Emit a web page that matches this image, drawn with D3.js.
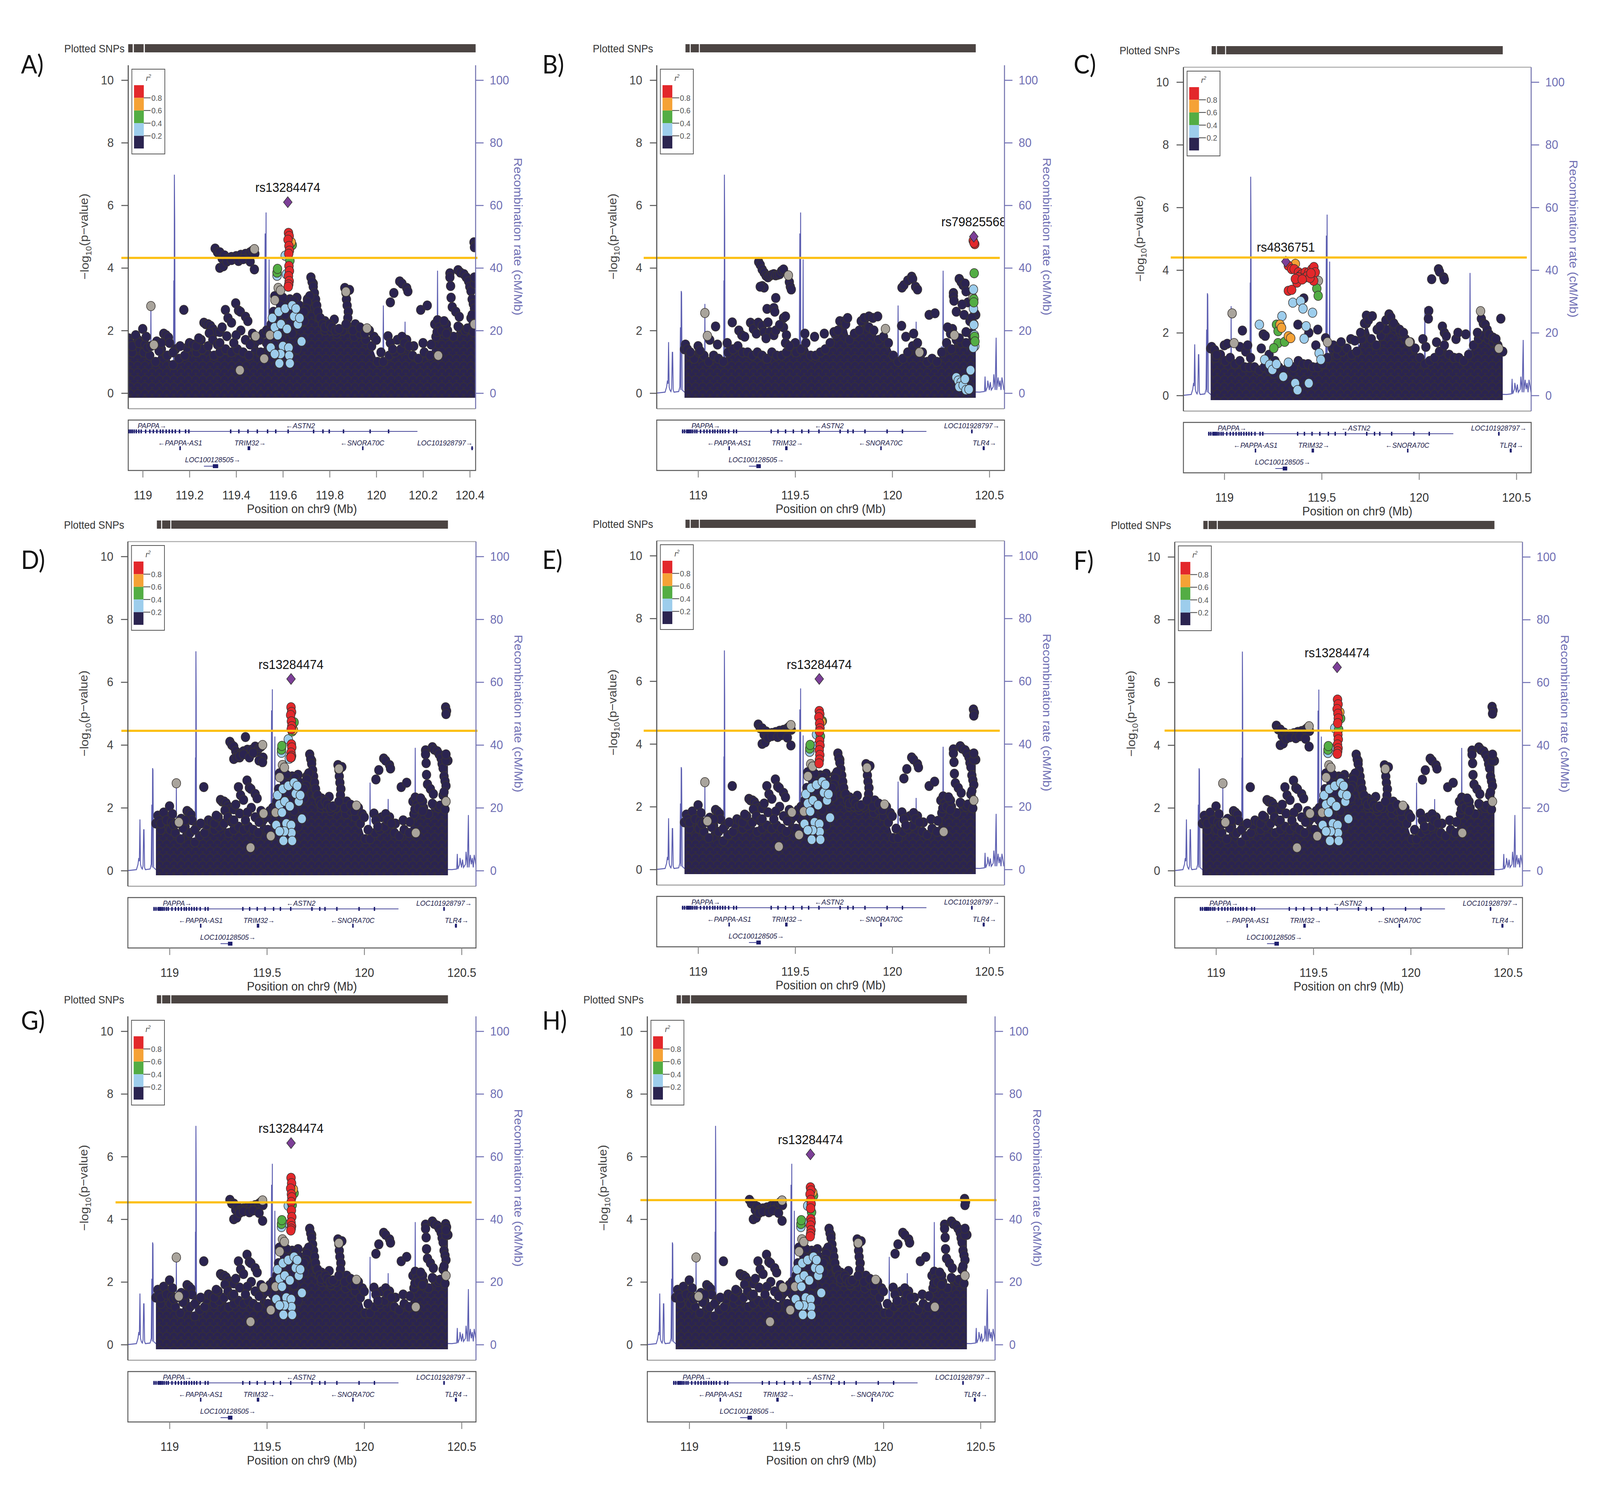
<!DOCTYPE html>
<html><head><meta charset="utf-8">
<script src="https://cdn.jsdelivr.net/npm/d3@7"></script>
<style>
html,body{margin:0;padding:0;background:#fff;overflow:hidden}
svg{display:block;width:100vw;height:100vh}
text{font-family:"Liberation Sans",Arial,Helvetica,sans-serif}
</style>
</head><body>
<svg id="c" viewBox="0 0 4417 3808" preserveAspectRatio="none"></svg>
<script>
// ---------------- DATA ----------------
const panelIds = ["A","B","C","D","E","F","G","H"];
const leadName = ["rs13284474","rs79825568","rs4836751","rs13284474","rs13284474","rs13284474","rs13284474","rs13284474"];
const leadPos  = [119.621,120.42,119.316,119.624,119.624,119.622,119.624,119.624];
const leadLogP = [6.1,5.0,4.27,6.1,6.07,6.48,6.43,6.07];
const thresholdLogP = [4.32,4.32,4.40,4.45,4.42,4.46,4.54,4.61];

const yTicks = [0,2,4,6,8,10];
const recTicks = [0,20,40,60,80,100];
const xTicksNarrow = [119,119.2,119.4,119.6,119.8,120,120.2,120.4];
const xLabelsNarrow = ["119","119.2","119.4","119.6","119.8","120","120.2","120.4"];
const xTicksWide = [119,119.5,120,120.5];
const xLabelsWide = ["119","119.5","120","120.5"];
const ldLabels = ["0.8","0.6","0.4","0.2"];

// recombination rate (cM/Mb), shared by all panels
const recombPos = [118.786,118.83,118.838,118.842,118.845,118.848,118.851,118.855,118.86,118.864,118.867,118.869,118.872,118.876,118.9,118.906,118.909,118.911,118.913,118.915,118.918,118.93,119.0,119.033,119.035,119.037,119.06,119.063,119.066,119.1,119.131,119.133,119.134,119.1355,119.137,119.139,119.2,119.3,119.4,119.45,119.52,119.524,119.526,119.528,119.529,119.531,119.538,119.541,119.543,119.55,119.62,119.686,119.689,119.692,119.7,119.766,119.77,119.774,119.85,119.9,120.027,120.03,120.033,120.12,120.123,120.125,120.127,120.2,120.25,120.253,120.256,120.259,120.262,120.265,120.35,120.45,120.475,120.478,120.481,120.49,120.492,120.5,120.505,120.51,120.52,120.523,120.53,120.535,120.538,120.545,120.55,120.555,120.56,120.565,120.575];
const recombRate = [0,0.3,2,4,3,16.3,2,1,0.5,1.5,13,13,1,0.3,0.5,2,21,1,32.6,32,1,0.3,0.5,0.5,28.5,0.5,0.5,7.5,0.5,0.3,0.5,36,1,69.8,55,0.5,0.4,0.3,0.5,0.3,0.5,51,1,57.7,2,0.5,0.5,42.7,1,0.5,0.3,0.5,19,0.5,0.3,0.3,13,0.3,0.5,0.3,0.5,28,0.5,0.5,22.8,1,0.5,0.5,0.5,15,1,0.5,39.1,0.5,0.5,0.3,0.5,5.3,0.5,2,4,1,3.5,1,2,6,1,17.7,1,5,2,4,1,5,1];

// "Plotted SNPs" rug: covered stretches
const plottedStart = [118.935,118.962,119.009];
const plottedEnd   = [118.957,119.004,120.43];

// upper edge of the dense mass of weak SNPs
const envPos = [118.93,118.955,118.98,119.005,119.03,119.055,119.08,119.105,119.13,119.155,
119.18,119.205,119.23,119.255,119.28,119.305,119.33,119.355,119.38,119.405,
119.43,119.455,119.48,119.505,119.53,119.555,119.58,119.605,119.63,119.655,
119.68,119.705,119.73,119.755,119.78,119.805,119.83,119.855,119.88,119.905,
119.93,119.955,119.98,120.005,120.03,120.055,120.08,120.105,120.13,120.155,
120.18,120.205,120.23,120.255,120.28,120.305,120.33,120.355,120.38,120.405,120.43];
const envAstn = [1.5,1.3,1.7,1.3,1.2,1.0,1.4,1.2,0.9,1.1,
1.2,1.5,1.3,1.4,1.5,1.2,1.3,1.4,1.3,1.4,
1.3,1.2,1.7,1.3,1.6,2.0,2.6,2.8,3.0,2.5,
2.3,3.0,3.5,2.4,2.0,2.0,1.9,2.0,2.6,1.8,
1.9,1.7,1.5,1.0,1.0,1.2,1.3,1.4,1.7,1.2,
1.1,1.3,1.2,1.8,2.2,2.0,1.8,2.1,2.0,2.4,3.5];
const envB = [1.4,1.2,1.1,1.3,1.2,1.0,1.2,1.1,1.0,1.3,
1.4,1.5,1.3,1.3,1.2,1.3,1.2,1.1,1.3,1.2,
1.2,1.3,1.5,1.3,1.4,1.6,1.2,1.2,1.3,1.4,
1.6,1.9,2.3,2.3,1.7,1.9,2.0,2.3,2.1,2.0,
1.7,1.8,1.6,1.2,1.0,1.1,1.3,1.5,1.6,1.3,
1.0,1.1,1.0,1.3,1.6,1.4,1.7,1.6,1.6,1.9,2.5];
const envC = [1.5,1.2,1.3,1.1,1.2,1.0,1.1,0.9,0.9,0.9,
0.8,0.9,0.8,0.7,0.9,0.8,1.0,0.9,1.1,1.0,
1.0,0.9,0.9,1.0,1.2,1.5,1.3,1.4,1.5,1.3,
1.4,1.8,2.3,1.8,1.6,1.9,2.1,2.4,2.2,2.0,
1.8,1.7,1.5,1.2,1.0,1.1,1.2,1.4,1.6,1.3,
1.2,1.2,1.1,1.3,1.6,1.8,1.9,1.8,1.7,1.6,1.4];

// SNPs [position Mb, -log10 p, LD class] ; class: -1 NA(grey),0 <0.2,1 0.2-0.4,2 0.4-0.6,3 0.6-0.8,4 >0.8
const astnSnps = [
[118.94,1.75,0],[118.945,1.6,0],[118.955,1.5,0],[118.97,1.85,0],[118.985,1.6,0],[119.0,2.05,0],[119.01,1.55,0],[119.02,1.45,0],[119.06,1.65,0],[119.07,1.35,0],[119.09,1.9,0],[119.1,1.85,0],[119.11,1.78,0],[119.115,1.6,0],[119.14,1.4,0],[119.176,2.66,0],[119.19,1.45,0],[119.2,1.6,0],[119.215,1.55,0],[119.23,1.5,0],[119.25,1.7,0],[119.262,2.25,0],[119.27,2.2,0],[119.28,2.2,0],[119.29,2.15,0],[119.3,2.05,0],[119.31,1.95,0],[119.285,1.92,0],[119.33,1.95,0],[119.34,2.1,0],[119.354,2.66,0],[119.365,2.4,0],[119.38,2.25,0],[119.398,2.87,0],[119.41,2.64,0],[119.418,2.6,0],[119.44,2.44,0],[119.45,2.3,0],[119.42,2.0,0],[119.36,1.82,0],[119.4,1.85,0],[119.48,1.6,0],[119.3,1.7,0],[119.32,1.55,0],[119.44,1.7,0],[119.46,1.55,0],[119.5,1.7,0],[119.515,1.9,0],[119.53,2.0,0],
[119.015,1.8,0],[119.035,1.5,0],[119.08,1.6,0],[119.13,1.3,0],[119.16,1.5,0],[119.24,1.75,0],[119.33,1.6,0],[119.39,1.6,0],[119.47,1.9,0],[119.78,2.3,0],[119.82,2.35,0],[119.91,2.2,0],[119.97,2.0,0],[120.02,1.3,0],[120.16,1.5,0],[120.2,1.6,0],[120.235,1.55,0],[120.25,2.2,0],
[119.565,3.1,0],[119.6,3.05,0],[119.66,3.05,0],[119.59,2.8,0],[119.56,2.6,0],[119.57,2.45,0],[119.55,2.2,0],[119.545,1.95,0],[119.61,2.5,0],[119.63,2.7,0],[119.645,2.95,0],[119.67,2.8,0],[119.68,2.55,0],[119.595,1.7,0],[119.64,1.9,0],[119.66,1.4,0],[119.61,1.2,0],
[119.72,3.7,0],[119.725,3.55,0],[119.73,3.4,0],[119.735,3.2,0],[119.74,3.0,0],[119.715,3.1,0],[119.745,2.8,0],[119.75,2.6,0],[119.705,2.9,0],[119.7,2.7,0],[119.76,2.4,0],[119.69,2.6,0],[119.692,2.3,0],[119.77,2.2,0],[119.78,2.1,0],[119.8,2.2,0],[119.81,2.1,0],[119.825,2.0,0],[119.84,2.05,0],
[119.865,3.36,0],[119.87,3.2,0],[119.872,3.0,0],[119.875,2.8,0],[119.88,2.6,0],[119.885,3.3,0],[119.878,2.4,0],[119.87,2.2,0],[119.9,2.0,0],[119.93,2.1,0],[119.95,1.9,0],[119.99,1.8,0],[120.0,1.7,0],
[120.05,1.82,0],[120.06,2.9,0],[120.075,3.2,0],[120.1,3.57,0],[120.11,3.5,0],[120.13,3.36,0],[120.135,3.25,0],[120.09,1.7,0],[120.06,1.6,0],[120.07,1.4,0],[120.11,1.8,0],[120.12,1.6,0],[120.14,1.5,0],[120.19,2.66,0],[120.218,2.8,0],[120.262,2.33,0],[120.27,2.1,0],[120.26,1.95,0],[120.28,2.0,0],
[120.315,3.83,0],[120.315,3.7,0],[120.318,3.42,0],[120.35,3.93,0],[120.36,3.85,0],[120.375,3.8,0],[120.385,3.7,0],[120.395,3.57,0],[120.4,3.4,0],[120.405,3.26,0],[120.41,3.0,0],[120.415,2.85,0],[120.42,2.7,0],[120.32,3.05,0],[120.325,2.75,0],[120.34,2.6,0],[120.355,2.44,0],[120.35,2.13,0],[120.39,2.07,0],[120.3,2.2,0],[120.29,2.3,0],[120.41,2.5,0],[120.415,1.95,0],[120.3,1.9,0],[120.42,3.5,0],[120.42,3.7,0],
[119.035,2.78,-1],[119.048,1.54,-1],[119.483,1.82,-1],[119.58,3.36,-1],[119.59,3.28,-1],[119.566,2.97,-1],[119.52,1.1,-1],[119.416,0.73,-1],[119.87,3.24,-1],[119.96,2.07,-1],[120.42,2.2,-1],[120.265,1.2,-1],[119.545,1.85,-1],
[119.548,1.45,1],[119.555,2.4,1],[119.565,2.1,1],[119.578,1.85,1],[119.582,2.6,1],[119.592,2.2,1],[119.6,1.5,1],[119.61,2.7,1],[119.618,2.05,1],[119.625,1.45,1],[119.627,1.2,1],[119.63,0.95,1],[119.64,2.8,1],[119.648,2.45,1],[119.656,2.7,1],[119.664,2.2,1],[119.672,2.4,1],[119.68,1.65,1],[119.59,1.25,1],[119.565,1.25,1],[119.585,0.95,1],[119.575,3.75,1],
[119.575,3.85,2],[119.577,3.97,2]
];
// plateau of SNPs at 119.31-119.48
const plateauPos = [119.31,119.32,119.33,119.34,119.35,119.36,119.37,119.38,119.39,119.40,119.41,119.42,119.43,119.44,119.45,119.46,119.47,119.478,119.48,119.33,119.345,119.36,119.38,119.41,119.43,119.46,119.478];
const plateauLD  = [0,0,0,0,0,0,0,0,0,0,0,0,0,0,0,0,0,-1,0,0,0,0,0,0,0,0,0];
const plateauLogP   = [4.62,4.5,4.5,4.3,4.4,4.28,4.3,4.35,4.32,4.38,4.35,4.42,4.3,4.45,4.35,4.5,4.55,4.6,4.45,4.0,4.05,4.2,4.25,4.22,4.28,4.2,3.95];
const plateauLogP_D = [4.1,4.0,3.95,3.8,3.7,3.6,3.75,3.8,4.25,3.85,3.7,3.85,3.75,3.95,3.8,3.9,3.95,4.0,3.6,3.55,3.6,3.65,3.7,3.6,3.75,3.5,3.45];
// high-LD column under the lead SNP
const colPos = [119.624,119.627,119.622,119.626,119.628,119.625,119.64,119.636,119.63,119.61,119.626,119.628,119.624,119.627,119.625,119.623,119.615];
const colLD  = [4,4,4,4,4,4,2,3,2,1,4,4,4,4,4,4,1];
const colLogP_A = [5.12,5.02,4.9,4.7,4.55,4.45,4.73,4.82,4.23,4.39,4.06,3.9,3.74,3.58,3.47,3.4,3.8];
const colLogP_D = [5.2,5.05,4.95,4.75,4.6,4.5,4.72,4.48,4.43,4.18,4.02,3.92,3.76,3.65,3.6,3.6,3.56];
const colLogP_E = [5.05,4.95,4.85,4.65,4.5,4.4,4.73,4.7,4.24,4.3,4.1,3.95,3.8,3.65,3.5,3.38,3.95];
const colLogP_F = [5.45,5.3,5.15,5.0,4.85,4.7,4.85,5.05,4.5,4.54,4.33,4.18,4.02,3.9,3.8,3.72,3.92];
const colLogP_G = [5.32,5.15,4.98,4.8,4.7,4.55,4.83,4.96,4.45,4.43,4.28,4.07,3.9,3.78,3.7,3.64,3.85];
const colLogP_H = [5.02,4.92,4.8,4.62,4.49,4.35,4.75,4.86,4.22,4.43,4.01,3.9,3.8,3.65,3.54,3.45,3.9];
// cluster at right edge (120.42 Mb)
const rightPos = [120.418,120.423,120.42];
const rightLogP_A = [4.82,4.72,4.66];
const rightLogP_D = [5.2,5.08,4.98];
const rightLogP_E = [5.1,5.0,4.9];
const rightLogP_F = [5.22,5.1,5.0];
const rightLogP_G = [3.85,3.75,3.65];
const rightLogP_H = [4.65,4.55,4.45];

const bSnps = [
[118.935,1.55,0],[118.945,1.4,0],[118.96,1.3,0],[119.0,1.5,0],[119.01,1.35,0],[119.09,2.13,0],[119.06,1.7,0],[119.1,1.55,0],[119.176,2.26,0],[119.15,1.6,0],[119.21,2.0,0],[119.225,1.85,0],[119.24,1.8,0],[119.27,2.25,0],[119.28,2.2,0],[119.285,2.05,0],[119.3,1.9,0],[119.31,2.25,0],[119.33,2.15,0],[119.34,1.95,0],[119.36,2.26,0],[119.37,1.95,0],[119.35,1.75,0],[119.39,1.85,0],[119.4,2.0,0],[119.44,2.1,0],[119.455,1.85,0],[119.45,1.6,0],[119.5,1.6,0],[119.47,1.5,0],
[119.312,4.19,0],[119.32,4.1,0],[119.33,3.95,0],[119.34,3.85,0],[119.35,3.75,0],[119.36,3.7,0],[119.37,3.75,0],[119.38,3.78,0],[119.39,3.8,0],[119.4,3.76,0],[119.41,3.78,0],[119.42,3.8,0],[119.43,3.9,0],[119.44,3.95,0],[119.47,3.55,0],[119.475,3.4,0],[119.48,3.31,0],[119.33,3.42,0],[119.34,3.37,0],[119.32,3.4,0],[119.4,3.04,0],[119.355,2.69,0],[119.39,2.72,0],[119.44,2.4,0],[119.42,2.18,0],[119.395,2.6,0],[119.45,2.45,0],
[119.55,1.9,0],[119.6,1.8,0],[119.65,1.9,0],[119.7,1.95,0],[119.72,2.0,0],[119.76,2.2,0],[119.77,2.4,0],[119.84,2.3,0],[119.855,2.4,0],[119.88,2.45,0],[119.9,2.4,0],[119.925,2.45,0],[120.05,3.37,0],[120.06,3.45,0],[120.08,3.6,0],[120.1,3.72,0],[120.105,3.65,0],[120.12,3.4,0],[120.13,3.31,0],[120.048,2.15,0],[120.19,2.5,0],[120.22,2.55,0],[120.07,1.8,0],[120.11,1.9,0],
[120.315,3.2,0],[120.315,3.1,0],[120.318,2.95,0],[120.33,2.6,0],[120.345,3.65,0],[120.355,3.55,0],[120.365,3.45,0],[120.375,3.5,0],[120.38,3.25,0],[120.39,2.9,0],[120.36,2.83,0],[120.37,2.5,0],[120.4,2.3,0],[120.31,2.05,0],[120.3,1.9,0],[120.285,2.1,0],[120.345,1.75,0],[120.38,1.95,0],[120.425,2.55,0],[120.41,2.4,0],[120.42,2.2,0],
[119.035,2.56,-1],[119.048,1.83,-1],[119.465,3.76,-1],[119.965,2.05,-1],[120.415,3.05,-1],[120.32,1.85,-1],[120.14,1.3,-1],
[120.418,3.31,1],[120.418,2.7,1],[120.42,2.18,1],[120.423,1.85,1],[120.425,1.5,1],[120.417,1.45,1],[120.403,0.73,1],[120.33,0.5,1],[120.34,0.4,1],[120.355,0.35,1],[120.345,0.2,1],[120.365,0.25,1],[120.38,0.1,1],[120.375,0.45,1],[120.395,0.12,1],
[120.422,3.83,2],[120.42,3.0,2],[120.42,2.9,2],[120.424,1.8,2],[120.426,1.65,2],
[120.417,4.87,4],[120.425,4.76,4],[120.421,4.8,4]
];

const cSnps = [
[118.935,1.55,0],[118.95,1.45,0],[118.96,1.3,0],[119.0,1.6,0],[119.015,1.65,0],[119.093,2.07,0],[119.08,1.55,0],[119.11,1.4,0],[119.12,1.6,0],[119.135,1.2,0],[119.2,1.95,0],[119.21,1.9,0],[119.19,1.5,0],[119.23,1.3,0],[119.26,1.1,0],[119.408,3.1,0],[119.378,2.26,0],[119.434,2.0,0],[119.48,2.1,0],[119.52,1.83,0],[119.47,1.6,0],
[119.56,1.6,0],[119.58,1.5,0],[119.6,1.7,0],[119.65,1.8,0],[119.67,1.75,0],[119.7,2.0,0],[119.72,2.3,0],[119.73,2.55,0],[119.74,2.4,0],[119.76,2.53,0],[119.785,2.1,0],[119.8,2.2,0],[119.83,2.4,0],[119.846,2.59,0],[119.855,2.5,0],[119.87,2.3,0],[119.9,2.1,0],[119.92,2.0,0],[120.02,1.8,0],[120.035,1.55,0],[120.05,2.7,0],[120.048,2.45,0],[120.065,3.71,0],[120.1,4.03,0],[120.105,3.95,0],[120.127,3.77,0],[120.13,3.7,0],[120.09,1.7,0],[120.12,2.2,0],[120.13,2.0,0],[120.14,1.9,0],[120.19,1.8,0],[120.2,2.0,0],[120.24,1.95,0],[120.3,2.0,0],[120.32,2.45,0],[120.33,2.3,0],[120.34,2.26,0],[120.35,2.1,0],[120.36,1.95,0],[120.42,2.45,0],[120.38,1.85,0],[120.395,1.8,0],
[119.04,2.62,-1],[119.05,1.67,-1],[119.483,3.66,-1],[119.53,1.7,-1],[119.95,1.7,-1],[120.316,2.69,-1],[120.41,1.5,-1],
[119.352,2.96,1],[119.392,3.01,1],[119.404,2.77,1],[119.453,2.64,1],[119.42,2.21,1],[119.41,1.81,1],[119.296,2.53,1],[119.18,2.26,1],[119.207,1.14,1],[119.233,0.98,1],[119.247,0.82,1],[119.268,1.0,1],[119.329,1.05,1],[119.303,0.6,1],[119.364,0.39,1],[119.376,0.17,1],[119.434,0.39,1],[119.487,1.35,1],[119.496,1.14,1],
[119.268,2.26,2],[119.276,2.05,2],[119.276,1.67,2],[119.254,1.51,2],[119.31,1.71,2],[119.475,3.41,2],[119.482,3.18,2],
[119.286,2.26,3],[119.294,2.16,3],[119.329,1.89,3],[119.341,1.83,3],[119.365,4.2,3],
[119.329,4.14,4],[119.346,4.03,4],[119.359,4.03,4],[119.381,3.93,4],[119.39,3.82,4],[119.399,3.87,4],[119.416,3.93,4],[119.434,3.93,4],[119.45,4.03,4],[119.46,4.1,4],[119.467,3.93,4],[119.459,3.66,4],[119.381,3.77,4],[119.373,3.6,4],[119.329,3.34,4],[119.346,3.37,4],[119.41,3.75,4],[119.425,3.8,4],[119.44,3.75,4],[119.365,3.72,4],[119.4,3.7,4],[119.445,3.9,4]
];

// genes
const geneName   = ["PAPPA","ASTN2","LOC101928797","PAPPA-AS1","TRIM32","SNORA70C","TLR4","LOC100128505"];
const geneStart  = [118.916,119.19,120.405,119.158,119.45,119.94,120.465,119.262];
const geneEnd    = [119.2,120.176,120.415,119.162,119.458,119.944,120.476,119.323];
const geneStrand = [1,-1,1,-1,1,-1,1,1];
const geneRow    = [0,0,0,1,1,1,1,2];
const geneLabelAt= [119.04,119.675,120.41,119.16,119.46,119.94,120.475,119.30];
const exonGene  = [0,0,0,0,0,0,0,0,0,0,0,0,0,0,0,0,0,0,0,0,0,0,1,1,1,1,1,1,1,1,1,1,1,1,1,2,3,4,4,5,6,7];
const exonStart = [118.92,118.93,118.941,118.948,118.955,118.963,118.972,118.983,118.993,119.012,119.03,119.045,119.06,119.075,119.086,119.1,119.113,119.126,119.139,119.157,119.183,119.197,119.374,119.411,119.45,119.488,119.534,119.569,119.622,119.731,119.771,119.798,119.859,119.973,120.052,120.407,119.159,119.451,119.456,119.941,120.466,119.3];
const exonEnd   = [118.921,118.931,118.942,118.949,118.956,118.964,118.973,118.984,118.994,119.013,119.031,119.046,119.061,119.076,119.087,119.101,119.114,119.127,119.14,119.158,119.184,119.198,119.379,119.412,119.451,119.493,119.535,119.57,119.623,119.732,119.772,119.799,119.86,119.974,120.053,120.413,119.161,119.453,119.458,119.943,120.476,119.323];

// ---------------- LAYOUT ----------------
const layout = {
 A:{boxL:354,boxR:1313,y10:205,y0:1006,dom:[118.938,120.425],narrow:true,letterX:58,letterC:164,yel:-19,top:false,rowOverride:{2:1}},
 B:{boxL:1813,boxR:2773,y10:205,y0:1006,dom:[118.787,120.578],letterX:1497,letterC:164,yel:-36,top:false},
 C:{boxL:3267,boxR:4227,y10:210,y0:1012,dom:[118.79,120.576],letterX:2964,letterC:164,yel:-35,top:true},
 D:{boxL:353,boxR:1314,y10:1424,y0:2228,dom:[118.786,120.574],letterX:58,letterC:1432,yel:-18,top:true},
 E:{boxL:1813,boxR:2773,y10:1422,y0:2225,dom:[118.787,120.578],letterX:1497,letterC:1432,yel:-36,top:true},
 F:{boxL:3243,boxR:4203,y10:1425,y0:2228,dom:[118.788,120.574],letterX:2964,letterC:1434,yel:-28,top:true},
 G:{boxL:353,boxR:1314,y10:2639,y0:3441,dom:[118.786,120.574],letterX:58,letterC:2611,yel:-34,top:false},
 H:{boxL:1787,boxR:2747,y10:2639,y0:3441,dom:[118.784,120.575],letterX:1497,letterC:2611,yel:-19,top:false}
};
const ldColor = {"-1":"#a9a49c","0":"#2b2450","1":"#9dcdec","2":"#53ad44","3":"#f5a236","4":"#e3282b"};
const legendColors = ["#e3282b","#f5a236","#53ad44","#9dcdec","#2b2450"];
const pointStroke = "#3a3532";
const R = 12;

function zip(pos, vals, lds){ return pos.map((p,i)=>[p, vals[i], Array.isArray(lds)?lds[i]:lds]); }
const astnFamily = {
 A:{col:colLogP_A, right:rightLogP_A, plat:plateauLogP},
 D:{col:colLogP_D, right:rightLogP_D, plat:plateauLogP_D},
 E:{col:colLogP_E, right:rightLogP_E, plat:plateauLogP},
 F:{col:colLogP_F, right:rightLogP_F, plat:plateauLogP},
 G:{col:colLogP_G, right:rightLogP_G, plat:plateauLogP},
 H:{col:colLogP_H, right:rightLogP_H, plat:plateauLogP}
};
function snpsFor(id){
  if(id==="B") return {env:envB, snps:bSnps};
  if(id==="C") return {env:envC, snps:cSnps};
  const f = astnFamily[id];
  return {env:envAstn, snps: astnSnps.concat(zip(plateauPos,f.plat,plateauLD), zip(colPos,f.col,colLD), zip(rightPos,f.right,0))};
}

// ---------------- DRAW ----------------
const svg = d3.select("#c");
svg.append("rect").attr("width",4417).attr("height",3808).attr("fill","#fff");
const defs = svg.append("defs");
// texture for the dense mass of overlapping points
const pat = defs.append("pattern").attr("id","mass").attr("patternUnits","userSpaceOnUse")
  .attr("width",20).attr("height",18);
pat.append("rect").attr("width",20).attr("height",18).attr("fill","#2a2348");
[[0,0],[20,0],[10,9],[0,18],[20,18]].forEach(c=>{
  pat.append("circle").attr("cx",c[0]).attr("cy",c[1]).attr("r",11)
    .attr("fill","#2b2450").attr("stroke","#37312f").attr("stroke-width",1.3);
});
const ldOrder = {"0":0,"-1":1,"1":2,"2":3,"3":4,"4":5};

panelIds.forEach((id, pi) => {
  const L = layout[id];
  const data = snpsFor(id);
  const boxTop = L.y10 - 38, boxBot = L.y0 + 40;
  const geneTop = boxBot + 29, geneBot = boxBot + 158;
  const x = d3.scaleLinear().domain(L.dom).range([L.boxL, L.boxR]);
  const y = d3.scaleLinear().domain([0,10]).range([L.y0, L.y10]);
  const yr = d3.scaleLinear().domain([0,100]).range([L.y0, L.y10]);
  const g = svg.append("g");

  const cid = "clip" + id;
  defs.append("clipPath").attr("id", cid).append("rect")
    .attr("x", L.boxL).attr("y", boxTop).attr("width", L.boxR - L.boxL).attr("height", boxBot - boxTop);
  const gid = "gclip" + id;
  defs.append("clipPath").attr("id", gid).append("rect")
    .attr("x", L.boxL).attr("y", geneTop).attr("width", L.boxR - L.boxL).attr("height", geneBot - geneTop);

  // panel letter
  g.append("text").attr("x", L.letterX).attr("y", L.letterC).attr("dy","0.36em")
    .style("font-family","Lato, 'Open Sans', sans-serif").attr("font-size",66).attr("fill","#111").text(id + ")");

  // plotted SNPs
  const barTop = L.y10 - 92;
  g.append("text").attr("x", L.boxL - 10).attr("y", barTop + 11).attr("dy","0.35em")
    .attr("text-anchor","end").attr("font-size",28).attr("fill","#333").text("Plotted SNPs");
  plottedStart.forEach((s,i) => {
    const a = x(Math.max(s, L.dom[0])), b = x(Math.min(plottedEnd[i], L.dom[1]));
    g.append("rect").attr("x", a).attr("y", barTop).attr("width", Math.max(0,b-a)).attr("height", 21).attr("fill","#4b4442");
  });

  // recombination line
  const plot = g.append("g").attr("clip-path", `url(#${cid})`);
  const rec = recombPos.map((p,i)=>[p, recombRate[i]]);
  plot.append("path").datum(rec)
    .attr("d", d3.line().x(d=>x(d[0])).y(d=>yr(d[1])))
    .attr("fill","none").attr("stroke","#5b5db0").attr("stroke-width",2.5);

  // dense mass of weak SNPs
  const env = envPos.map((p,i)=>[p, data.env[i]]);
  plot.append("path").datum(env)
    .attr("d", d3.area().x(d=>x(d[0])).y0(y(0)+R).y1(d=>y(d[1])))
    .attr("fill","url(#mass)");
  plot.selectAll(null).data(env).join("circle")
    .attr("cx", d=>x(d[0])).attr("cy", d=>y(d[1])).attr("r", R)
    .attr("fill", ldColor["0"]).attr("stroke",pointStroke).attr("stroke-width",1.5);

  // individual SNPs
  const pts = data.snps.slice().sort((a,b)=>ldOrder[a[2]]-ldOrder[b[2]]);
  plot.selectAll(null).data(pts).join("circle")
    .attr("cx", d=>x(d[0])).attr("cy", d=>y(d[1])).attr("r", R)
    .attr("fill", d=>ldColor[d[2]]).attr("stroke",pointStroke).attr("stroke-width",1.5);

  // lead SNP
  const lx = x(leadPos[pi]), ly = y(leadLogP[pi]);
  plot.append("path").attr("d", `M${lx},${ly-14}L${lx+12},${ly}L${lx},${ly+14}L${lx-12},${ly}Z`)
    .attr("fill","#7d3f98").attr("stroke","#333").attr("stroke-width",1.5);
  plot.append("text").attr("x", lx).attr("y", ly - 26).attr("text-anchor","middle")
    .attr("font-size",34).attr("fill","#111").text(leadName[pi]);

  // threshold line
  g.append("line").attr("x1", L.boxL + L.yel).attr("x2", L.boxL + L.yel + 983)
    .attr("y1", y(thresholdLogP[pi])).attr("y2", y(thresholdLogP[pi]))
    .attr("stroke","#fcbf12").attr("stroke-width",5.5);

  // frame
  if (L.top) g.append("line").attr("x1",L.boxL).attr("x2",L.boxR).attr("y1",boxTop).attr("y2",boxTop).attr("stroke","#a9a9a9").attr("stroke-width",2.5);
  g.append("line").attr("x1",L.boxL).attr("x2",L.boxR).attr("y1",boxBot).attr("y2",boxBot).attr("stroke","#9a9a9a").attr("stroke-width",2.5);
  g.append("line").attr("x1",L.boxL).attr("x2",L.boxL).attr("y1",boxTop).attr("y2",boxBot).attr("stroke","#555").attr("stroke-width",3);
  g.append("line").attr("x1",L.boxR).attr("x2",L.boxR).attr("y1",boxTop).attr("y2",boxBot).attr("stroke","#7d7db4").attr("stroke-width",3);

  // left axis
  const ax = g.append("g").attr("transform",`translate(${L.boxL},0)`)
    .call(d3.axisLeft(y).tickValues(yTicks).tickSize(19).tickPadding(21).tickFormat(d3.format("d")));
  ax.select(".domain").remove();
  ax.selectAll("line").attr("stroke","#555").attr("stroke-width",2.5);
  ax.selectAll("text").attr("font-size",32).attr("fill","#444").style("font-family","'Liberation Sans',Arial,sans-serif");
  // right axis
  const ar = g.append("g").attr("transform",`translate(${L.boxR},0)`)
    .call(d3.axisRight(yr).tickValues(recTicks).tickSize(22).tickPadding(17).tickFormat(d3.format("d")));
  ar.select(".domain").remove();
  ar.selectAll("line").attr("stroke","#6f6fb4").attr("stroke-width",2.5);
  ar.selectAll("text").attr("font-size",32).attr("fill","#6f6fb4").style("font-family","'Liberation Sans',Arial,sans-serif");

  // axis titles
  const midY = (L.y10 + L.y0)/2;
  const yt = g.append("text").attr("transform",`translate(${L.boxL-120},${midY}) rotate(-90)`)
    .attr("text-anchor","middle").attr("dy","0.35em").attr("font-size",32).attr("fill","#444");
  yt.append("tspan").text("\u2212log");
  yt.append("tspan").attr("font-size",22).attr("dy","0.3em").text("10");
  yt.append("tspan").attr("dy","-0.3em").text("(p\u2212value)");
  g.append("text").attr("transform",`translate(${L.boxR+117},${midY}) rotate(90)`)
    .attr("text-anchor","middle").attr("dy","0.35em").attr("font-size",32).attr("fill","#6f6fb4")
    .text("Recombination rate (cM/Mb)");

  // legend
  const lgL = L.boxL + 10, lgT = L.y10 - 28;
  g.append("rect").attr("x",lgL).attr("y",lgT).attr("width",91).attr("height",217)
    .attr("fill","#fff").attr("stroke","#555").attr("stroke-width",2);
  const rt = g.append("text").attr("x",lgL+39).attr("y",lgT+30).attr("font-size",20).attr("fill","#444").attr("font-style","italic");
  rt.append("tspan").text("r");
  rt.append("tspan").attr("font-size",13).attr("dy","-0.6em").text("2");
  legendColors.forEach((c,i)=>{
    g.append("rect").attr("x",lgL+6).attr("y",lgT+41+i*32.4).attr("width",27).attr("height",32.4).attr("fill",c);
  });
  ldLabels.forEach((t,i)=>{
    const yy = lgT+41+(i+1)*32.4;
    g.append("line").attr("x1",lgL+33).attr("x2",lgL+52).attr("y1",yy).attr("y2",yy).attr("stroke","#444").attr("stroke-width",2);
    g.append("text").attr("x",lgL+54).attr("y",yy).attr("dy","0.35em").attr("font-size",21).attr("fill","#555").text(t);
  });

  // gene panel
  g.append("rect").attr("x",L.boxL).attr("y",geneTop).attr("width",L.boxR-L.boxL).attr("height",geneBot-geneTop)
    .attr("fill","none").attr("stroke","#555").attr("stroke-width",2.5);
  const gg = g.append("g").attr("clip-path",`url(#${gid})`);
  const rowLine = [29,72,118], rowLabel = [21,65,108];
  const rowOf = i => (L.rowOverride && L.rowOverride[i] !== undefined) ? L.rowOverride[i] : geneRow[i];
  const visible = i => geneEnd[i] >= L.dom[0] && geneStart[i] <= L.dom[1];
  geneName.forEach((nm,i)=>{
    if (!visible(i)) return;
    const r = rowOf(i);
    const ly2 = geneTop + rowLine[r];
    gg.append("line").attr("x1",x(geneStart[i])).attr("x2",x(geneEnd[i])).attr("y1",ly2).attr("y2",ly2)
      .attr("stroke","#4b4b9c").attr("stroke-width",2.2);
    const label = geneStrand[i] > 0 ? nm + "\u2192" : "\u2190" + nm;
    const t = gg.append("text").attr("y", geneTop + rowLabel[r]).attr("text-anchor","middle")
      .attr("font-size",19).attr("font-style","italic").attr("fill","#22224c").text(label);
    const w = t.node().getComputedTextLength();
    let cx = x(geneLabelAt[i]);
    cx = Math.min(cx, L.boxR - 8 - w/2);
    cx = Math.max(cx, L.boxL + 8 + w/2);
    t.attr("x", cx);
  });
  exonStart.forEach((s,i)=>{
    if (!visible(exonGene[i])) return;
    const r = rowOf(exonGene[i]);
    const ly2 = geneTop + rowLine[r];
    const a = x(s), b = x(exonEnd[i]);
    const w = Math.max(4, b-a);
    gg.append("rect").attr("x",(a+b)/2 - w/2).attr("y",ly2-5).attr("width",w).attr("height",10).attr("fill","#1e1e6e");
  });

  // x axis
  const ticks = L.narrow ? xTicksNarrow : xTicksWide;
  const labels = L.narrow ? xLabelsNarrow : xLabelsWide;
  const axb = g.append("g").attr("transform",`translate(0,${geneBot})`)
    .call(d3.axisBottom(x).tickValues(ticks).tickSize(18).tickPadding(33).tickFormat((d,i)=>labels[i]));
  axb.select(".domain").remove();
  axb.selectAll("line").attr("stroke","#888").attr("stroke-width",2.5);
  axb.selectAll("text").attr("font-size",32).attr("fill","#333").style("font-family","'Liberation Sans',Arial,sans-serif");
  g.append("text").attr("x",(L.boxL+L.boxR)/2).attr("y",geneBot+98).attr("dy","0.35em")
    .attr("text-anchor","middle").attr("font-size",32).attr("fill","#333").text("Position on chr9 (Mb)");
});
</script>
</body></html>
